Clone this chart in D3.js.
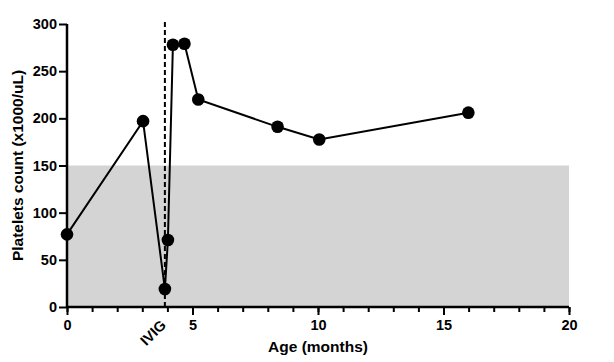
<!DOCTYPE html>
<html><head><meta charset="utf-8">
<script src="https://cdn.jsdelivr.net/npm/d3@7"></script>
<style>body{margin:0;background:#fff}svg{display:block}text{font-family:Arial,"Liberation Sans",sans-serif;font-weight:bold}</style>
</head><body>
<svg id="c" width="614" height="362"></svg>
<script>
const ages = [0, 3.03, 3.9, 4.02, 4.22, 4.68, 5.23, 8.39, 10.05, 15.99];
const platelets = [77, 197, 19, 71, 278, 279, 220, 191, 177.5, 206];
const xTicks = [0, 5, 10, 15, 20];
const yTicks = [0, 50, 100, 150, 200, 250, 300];
const normalRange = [0, 150];
const ivigAge = 3.9;
const ivigLabel = "IVIG";

const svg = d3.select("#c");
const x = d3.scaleLinear().domain([0, 20]).range([67, 569]);
const y = d3.scaleLinear().domain([0, 300]).range([307, 24]);

// gray band
svg.append("rect").attr("x", x(0)).attr("width", x(20) - x(0))
  .attr("y", y(normalRange[1])).attr("height", y(normalRange[0]) - y(normalRange[1]))
  .attr("fill", "#d4d4d4");

// IVIG dashed line
svg.append("line").attr("x1", x(ivigAge)).attr("x2", x(ivigAge))
  .attr("y1", y(300) - 2).attr("y2", y(0) - 1)
  .attr("stroke", "#000").attr("stroke-width", 2).attr("stroke-dasharray", "5,3");

// axes
const xAxis = svg.append("g").attr("transform", `translate(0,${y(0)})`)
  .call(d3.axisBottom(x).tickValues(d3.range(0, 21, 1)).tickSize(5).tickFormat(""));
xAxis.selectAll(".tick line").attr("stroke-width", 2);
xAxis.select(".domain").attr("stroke-width", 2.5).attr("d", `M${x(0)},0H${x(20)}`);
const xMaj = svg.append("g").attr("transform", `translate(0,${y(0)})`)
  .call(d3.axisBottom(x).tickValues(xTicks).tickSize(8).tickPadding(5));
xMaj.select(".domain").remove();
xMaj.selectAll(".tick line").attr("stroke-width", 2);
xMaj.selectAll(".tick text").attr("font-size", 14.5).attr("fill", "#000").attr("font-family", "Arial, 'Liberation Sans', sans-serif").attr("font-weight", "bold");

const yAxis = svg.append("g").attr("transform", `translate(${x(0)},0)`)
  .call(d3.axisLeft(y).tickValues(yTicks).tickSize(8).tickPadding(2));
yAxis.select(".domain").attr("stroke-width", 2.5).attr("d", `M0,${y(300)}V${y(0)}`);
yAxis.selectAll(".tick line").attr("stroke-width", 2);
yAxis.selectAll(".tick text").attr("font-size", 14.5).attr("fill", "#000").attr("font-family", "Arial, 'Liberation Sans', sans-serif").attr("font-weight", "bold");

// line + points
svg.append("path").datum(ages.map((a, i) => [a, platelets[i]]))
  .attr("fill", "none").attr("stroke", "#000").attr("stroke-width", 2)
  .attr("d", d3.line().x(d => x(d[0])).y(d => y(d[1])));
svg.selectAll("circle.pt").data(ages.map((a, i) => [a, platelets[i]])).join("circle")
  .attr("class", "pt").attr("cx", d => x(d[0])).attr("cy", d => y(d[1])).attr("r", 6.3).attr("fill", "#000");

// IVIG label
svg.append("text").attr("transform", `translate(${x(ivigAge) + 2},${y(0) + 19}) rotate(-45)`)
  .attr("text-anchor", "end").attr("font-size", 14.5).text(ivigLabel);

// titles
svg.append("text").attr("x", (x(0) + x(20)) / 2).attr("y", 352).attr("text-anchor", "middle")
  .attr("font-size", 15.5).text("Age (months)");
svg.append("text").attr("transform", `translate(23,${(y(0) + y(300)) / 2}) rotate(-90)`)
  .attr("text-anchor", "middle").attr("font-size", 15.5).text("Platelets count (x1000/uL)");
</script>
</body></html>
